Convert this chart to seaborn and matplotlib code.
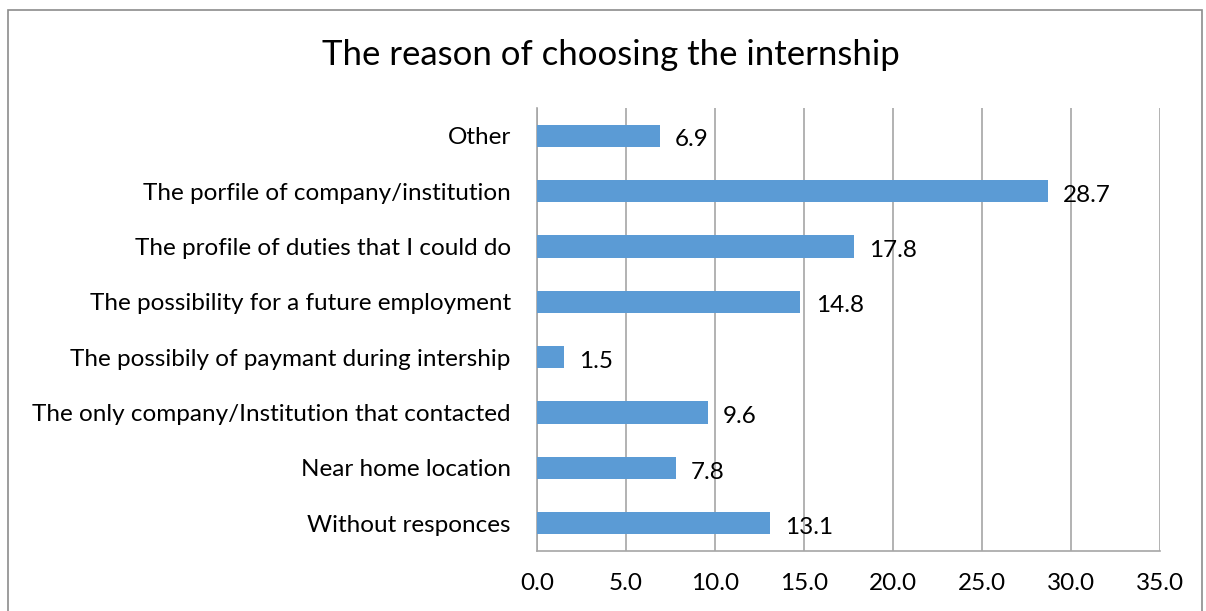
import matplotlib
matplotlib.use("Agg")
import matplotlib.pyplot as plt
import seaborn as sns
import pandas as pd
import numpy as np
from matplotlib.ticker import FixedLocator
from matplotlib.patches import Rectangle

categories = [
    "Other",
    "The porfile of company/institution",
    "The profile of duties that I could do",
    "The possibility for a future employment",
    "The possibily of paymant during intership",
    "The only company/Institution that contacted",
    "Near home location",
    "Without responces",
]
values = [6.9, 28.7, 17.8, 14.8, 1.5, 9.6, 7.8, 13.1]
x_ticks = [0, 5, 10, 15, 20, 25, 30, 35]
title = "The reason of choosing the internship"

sns.set_style("white")
plt.rcParams['font.family'] = ['Lato', 'DejaVu Sans']

df = pd.DataFrame({"reason": categories, "value": values})

fig = plt.figure(figsize=(12.06, 6.11), dpi=100)
ax = fig.add_axes([0.4453, 0.0982, 0.9619 - 0.4453, 0.8232 - 0.0982])

sns.barplot(data=df, y="reason", x="value", order=categories, orient="h",
            color="#5B9BD5", saturation=1, width=0.4, ax=ax, zorder=3,
            linewidth=0)

ax.set_xlim(0, 35)
ax.set_ylim(len(categories) - 0.5, -0.5)
ax.xaxis.set_major_locator(FixedLocator(x_ticks))
ax.set_xticklabels([f"{t:.1f}" for t in x_ticks], fontsize=17.5, color="black")
ax.set_yticklabels(categories, fontsize=17.5, color="black")
ax.set_xlabel("")
ax.set_ylabel("")

grid_c = "#A6A6A6"
ax.grid(axis="x", color=grid_c, linewidth=1.2, zorder=0)
ax.set_axisbelow(True)
for s in ["top", "right"]:
    ax.spines[s].set_visible(False)
for s in ["left", "bottom"]:
    ax.spines[s].set_color(grid_c)
    ax.spines[s].set_linewidth(1.2)

ax.tick_params(axis="y", which="major", length=0, pad=19)
ax.yaxis.set_minor_locator(FixedLocator(np.arange(-0.5, len(categories), 1.0)))
ax.tick_params(axis="y", which="minor", length=7, color=grid_c, width=1.2, direction="out")
ax.tick_params(axis="x", which="major", length=7, color=grid_c, width=1.2, direction="out", pad=9)

for i, v in enumerate(values):
    ax.annotate(f"{v:.1f}", xy=(v, i), xytext=(11, -3), textcoords="offset points",
                ha="left", va="center", fontsize=17.5, color="black", zorder=5)

fig.text(0.5065, 0.91, title, ha="center", va="center", fontsize=25, color="black")

fig.patches.append(Rectangle((8 / 1206, -0.01), 1194 / 1206, 1 - 10 / 611 + 0.01,
                             transform=fig.transFigure, fill=False,
                             edgecolor="#8C8C8C", linewidth=1.2))

fig.savefig("out.png", dpi=100)
